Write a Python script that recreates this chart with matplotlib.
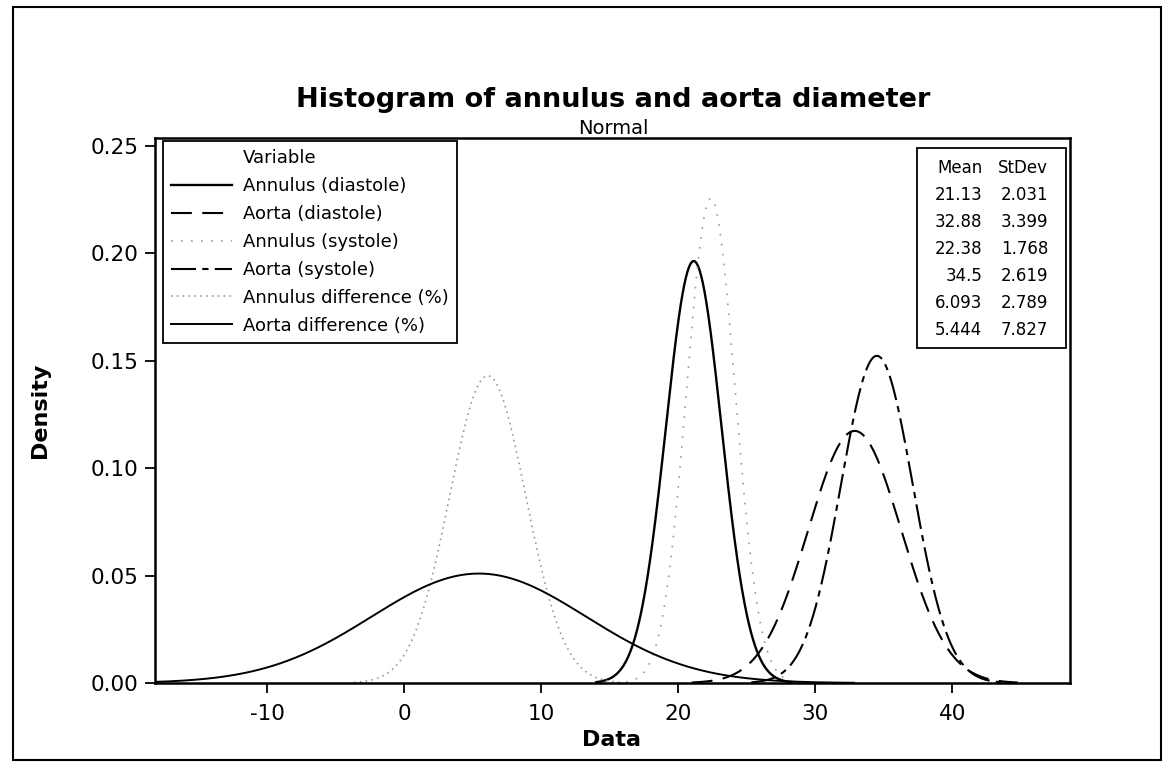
import numpy as np
import matplotlib
matplotlib.use("Agg")
import matplotlib.pyplot as plt
from matplotlib.lines import Line2D
from matplotlib.patches import Rectangle

plt.rcParams['font.family'] = ['DejaVu Sans']
plt.rcParams['axes.unicode_minus'] = False

# fitted normal parameters (from the stats box)
variables = ["Annulus (diastole)", "Aorta (diastole)", "Annulus (systole)",
             "Aorta (systole)", "Annulus difference (%)", "Aorta difference (%)"]
means = [21.13, 32.88, 22.38, 34.5, 6.093, 5.444]
stdevs = [2.031, 3.399, 1.768, 2.619, 2.789, 7.827]
mean_labels = ["21.13", "32.88", "22.38", "34.5", "6.093", "5.444"]
sd_labels = ["2.031", "3.399", "1.768", "2.619", "2.789", "7.827"]

x_ticks = [-10, 0, 10, 20, 30, 40]
y_ticks = [0.00, 0.05, 0.10, 0.15, 0.20, 0.25]

# line styles per variable
styles = [
    dict(color='black', lw=1.7, ls='-'),
    dict(color='black', lw=1.5, ls=(0, (10, 5))),
    dict(color='#9a9a9a', lw=1.2, ls=(0, (1, 5))),
    dict(color='black', lw=1.5, ls=(0, (12, 3, 3, 3))),
    dict(color='#9a9a9a', lw=1.2, ls=(0, (1, 2.5))),
    dict(color='black', lw=1.4, ls='-'),
]

fig = plt.figure(figsize=(11.66, 7.63), dpi=100)
ax = fig.add_axes([0.1329, 0.1048, 0.7848, 0.7143])

for m, s, st in zip(means, stdevs, styles):
    xs = np.linspace(m - 3.5 * s, m + 3.5 * s, 400)
    ys = np.exp(-0.5 * ((xs - m) / s) ** 2) / (s * np.sqrt(2 * np.pi))
    ax.plot(xs, ys, **st)

ax.set_xlim(-18.2, 48.6)
ax.set_ylim(0, 0.2537)
ax.set_xticks(x_ticks)
ax.set_yticks(y_ticks)
ax.set_yticklabels([f"{v:.2f}" for v in y_ticks])
ax.tick_params(direction='out', length=7, width=1.3, labelsize=15.5, pad=5)
ax.tick_params(axis='x', pad=8)
for sp in ax.spines.values():
    sp.set_linewidth(1.8)

fig.text(612 / 1166, 1 - 740 / 763, "Data", ha='center', va='center',
         fontsize=16, fontweight='bold')
fig.text(40 / 1166, 1 - 410 / 763, "Density", ha='center', va='center',
         fontsize=16, fontweight='bold', rotation=90)

fig.text(613 / 1166, 1 - 100 / 763, "Histogram of annulus and aorta diameter",
         ha='center', va='center', fontsize=19.5, fontweight='bold')
fig.text(613 / 1166, 1 - 129 / 763, "Normal", ha='center', va='center', fontsize=14)

# legend, with "Variable" as a header row
handles = [Line2D([], [], color='none')]
labels = ["Variable"]
for name, st in zip(variables, styles):
    handles.append(Line2D([], [], **st))
    labels.append(name)
leg = ax.legend(handles, labels, loc='upper left', bbox_to_anchor=(0.0087, 0.9945),
                fontsize=13, handlelength=3.4, handletextpad=0.6,
                labelspacing=0.55, borderpad=0.45, borderaxespad=0,
                fancybox=False, framealpha=1, edgecolor='black')
leg.get_frame().set_linewidth(1.3)

# stats box
bx0, bx1, by0, by1 = 0.833, 0.9956, 0.615, 0.9817
ax.add_patch(Rectangle((bx0, by0), bx1 - bx0, by1 - by0, transform=ax.transAxes,
                       fill=True, facecolor='white', edgecolor='black', lw=1.3, zorder=5))
row_y0 = 0.945
row_dy = 0.0495
col_mean = 0.904
col_sd = 0.976
ax.text(col_mean, row_y0, "Mean", transform=ax.transAxes, ha='right', va='center',
        fontsize=12, zorder=6)
ax.text(col_sd, row_y0, "StDev", transform=ax.transAxes, ha='right', va='center',
        fontsize=12, zorder=6)
for i, (ml, sl) in enumerate(zip(mean_labels, sd_labels)):
    y = row_y0 - (i + 1) * row_dy
    ax.text(col_mean, y, ml, transform=ax.transAxes, ha='right', va='center',
            fontsize=12, zorder=6)
    ax.text(col_sd, y, sl, transform=ax.transAxes, ha='right', va='center',
            fontsize=12, zorder=6)

# outer frame
fig.patches.append(Rectangle((0.011, 0.004), 0.985, 0.987, transform=fig.transFigure,
                             fill=False, edgecolor='black', lw=1.5))

fig.savefig("out.png", dpi=100)
